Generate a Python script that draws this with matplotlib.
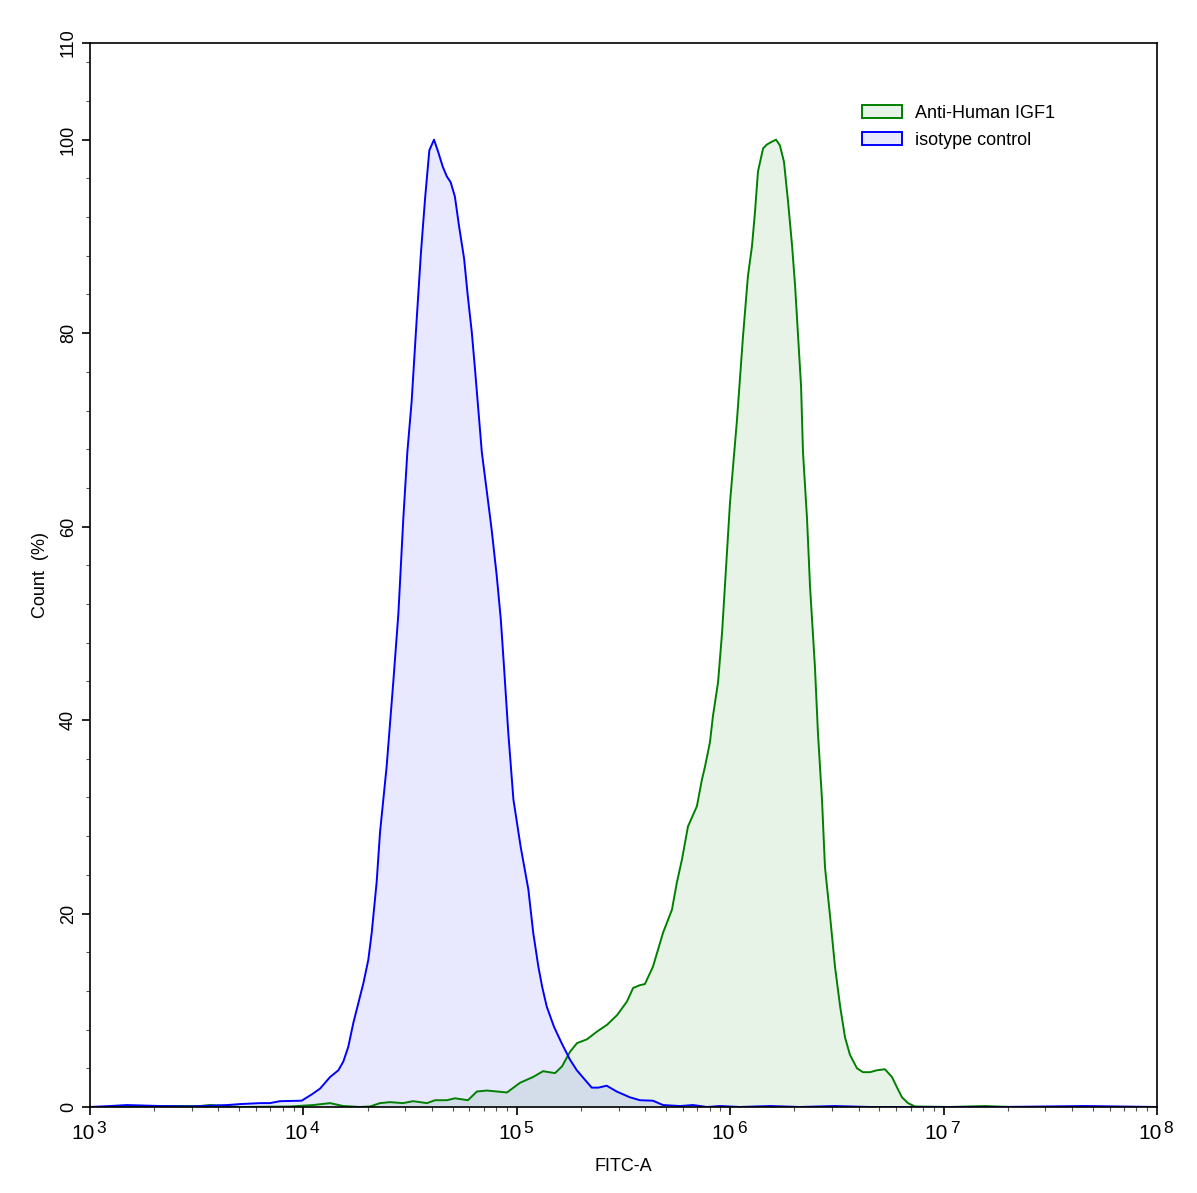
import matplotlib
matplotlib.use("Agg")
from matplotlib import pyplot as plt
from matplotlib.patches import Patch
from matplotlib.ticker import FixedLocator, MultipleLocator, LogLocator, NullFormatter
import numpy as np

plt.rcParams['font.family'] = ['Liberation Sans', 'DejaVu Sans']

# isotype control (blue) - log10(FITC-A) and Count (%)
iso_exp = [3.000, 3.094, 3.173, 3.328, 3.469, 3.642, 3.703, 3.797, 3.843, 3.890,
           3.992, 4.039, 4.078, 4.125, 4.164, 4.187, 4.210, 4.234, 4.257, 4.281,
           4.304, 4.320, 4.343, 4.359, 4.390, 4.421, 4.445, 4.468, 4.487, 4.507,
           4.531, 4.551, 4.570, 4.590, 4.612, 4.632, 4.653, 4.672, 4.690, 4.710,
           4.729, 4.753, 4.770, 4.789, 4.804, 4.836, 4.866, 4.882, 4.906, 4.925,
           4.940, 4.960, 4.984, 5.018, 5.054, 5.077, 5.101, 5.119, 5.140, 5.174,
           5.210, 5.249, 5.281, 5.312, 5.351, 5.382, 5.421, 5.468, 5.530, 5.577,
           5.638, 5.685, 5.765, 5.826, 5.891, 5.952, 6.046, 6.187, 6.327, 6.491,
           6.655, 7.264, 7.663, 8.000]
iso_cnt = [0.0, 0.1, 0.2, 0.1, 0.05, 0.2, 0.3, 0.4, 0.4, 0.6,
           0.65, 1.3, 1.9, 3.1, 3.8, 4.7, 6.2, 8.7, 10.7, 12.8,
           15.2, 18.0, 23.2, 28.4, 35.2, 43.9, 51.0, 60.8, 67.7, 72.9,
           81.5, 88.4, 93.9, 98.9, 100.0, 98.7, 97.2, 96.2, 95.6, 94.1,
           91.1, 87.7, 83.9, 80.1, 76.3, 67.7, 62.5, 59.7, 54.9, 50.4,
           45.5, 38.7, 31.8, 26.9, 22.5, 18.0, 14.5, 12.4, 10.4, 8.3,
           6.6, 4.9, 3.8, 3.0, 2.0, 2.0, 2.2, 1.6, 1.0, 0.7,
           0.65, 0.2, 0.1, 0.2, 0.0, 0.1, 0.0, 0.1, 0.0, 0.1,
           0.0, 0.0, 0.1, 0.0]

# Anti-Human IGF1 (green)
igf_exp = [3.000, 3.173, 3.281, 3.515, 3.562, 3.703, 3.937, 4.045, 4.125, 4.186,
           4.265, 4.312, 4.359, 4.406, 4.467, 4.514, 4.579, 4.617, 4.673, 4.710,
           4.771, 4.813, 4.860, 4.907, 4.954, 5.015, 5.076, 5.123, 5.179, 5.212,
           5.249, 5.282, 5.329, 5.376, 5.423, 5.470, 5.516, 5.545, 5.577, 5.600,
           5.638, 5.685, 5.727, 5.750, 5.774, 5.802, 5.844, 5.867, 5.882, 5.905,
           5.919, 5.943, 5.962, 5.999, 6.032, 6.060, 6.083, 6.102, 6.116, 6.130,
           6.154, 6.172, 6.196, 6.215, 6.233, 6.252, 6.271, 6.290, 6.304, 6.318,
           6.332, 6.341, 6.360, 6.374, 6.397, 6.411, 6.430, 6.444, 6.468, 6.491,
           6.515, 6.538, 6.561, 6.594, 6.622, 6.655, 6.688, 6.725, 6.758, 6.782,
           6.805, 6.833, 6.866, 7.030, 7.194, 7.311, 8.000]
igf_cnt = [0.0, 0.0, 0.1, 0.1, 0.2, 0.0, 0.05, 0.2, 0.4, 0.1,
           0.0, 0.05, 0.4, 0.5, 0.4, 0.6, 0.4, 0.7, 0.7, 0.9,
           0.7, 1.6, 1.7, 1.6, 1.5, 2.5, 3.1, 3.7, 3.5, 4.2,
           5.7, 6.6, 7.0, 7.8, 8.5, 9.5, 10.9, 12.3, 12.6, 12.7,
           14.5, 18.0, 20.4, 23.2, 25.6, 29.0, 31.1, 33.8, 35.2, 37.7,
           40.4, 43.9, 49.1, 62.5, 71.1, 79.7, 85.9, 89.0, 92.5, 96.7,
           99.1, 99.5, 99.8, 100.0, 99.4, 97.7, 93.6, 89.0, 84.9, 79.7,
           74.5, 67.7, 60.8, 53.8, 45.5, 38.7, 31.8, 24.8, 19.7, 14.5,
           10.4, 7.2, 5.4, 4.0, 3.6, 3.6, 3.8, 3.9, 3.1, 2.0,
           1.0, 0.4, 0.05, 0.0, 0.1, 0.0, 0.0]

labels = ['Anti-Human IGF1', 'isotype control']
y_ticks = [0, 20, 40, 60, 80, 100, 110]
x_decades = [3, 4, 5, 6, 7, 8]

iso_x = 10 ** np.array(iso_exp)
igf_x = 10 ** np.array(igf_exp)

fig = plt.figure(figsize=(11.97, 11.93), dpi=100)
ax = fig.add_axes([0.0752, 0.0721, 0.8914, 0.8919])

ax.fill_between(igf_x, igf_cnt, color='#008000', alpha=0.09, linewidth=0)
ax.fill_between(iso_x, iso_cnt, color='#0000ff', alpha=0.09, linewidth=0)
ax.plot(igf_x, igf_cnt, color='#008000', linewidth=1.4)
ax.plot(iso_x, iso_cnt, color='#0000ff', linewidth=1.4)

ax.set_xscale('log')
ax.set_xlim(1e3, 1e8)
ax.set_ylim(0, 110)

ax.xaxis.set_major_locator(FixedLocator([10.0 ** d for d in x_decades]))
ax.xaxis.set_major_formatter(NullFormatter())
ax.xaxis.set_minor_locator(LogLocator(base=10, subs=np.arange(2, 10)))
ax.xaxis.set_minor_formatter(NullFormatter())

# "10" with a raised exponent, drawn as two texts under each decade tick
for d in x_decades:
    ax.annotate('10', xy=(10.0 ** d, 0), xycoords=('data', 'axes fraction'),
                xytext=(3.2, -12.0), textcoords='offset points',
                ha='right', va='top', fontsize=15, annotation_clip=False)
    ax.annotate(str(d), xy=(10.0 ** d, 0), xycoords=('data', 'axes fraction'),
                xytext=(4.8, -10.2), textcoords='offset points',
                ha='left', va='top', fontsize=12.5, annotation_clip=False)

ax.yaxis.set_major_locator(FixedLocator(y_ticks))
ax.yaxis.set_minor_locator(MultipleLocator(4))
ax.set_yticklabels([str(v) for v in y_ticks], rotation=90, va='center')

ax.tick_params(which='major', direction='out', length=6, width=1.2,
               labelsize=13, top=False, right=False)
ax.tick_params(which='minor', direction='out', length=3, width=0.8,
               color='#555555', top=False, right=False)
for s in ax.spines.values():
    s.set_linewidth(1.2)

ax.set_xlabel('FITC-A', fontsize=13, labelpad=27)
ax.set_ylabel('Count  (%)', fontsize=13, labelpad=8)

handles = [Patch(facecolor='#e8f3e8', edgecolor='#008000', linewidth=1.4),
           Patch(facecolor='#e8e8fc', edgecolor='#0000ff', linewidth=1.4)]
ax.legend(handles, labels, loc='upper left', bbox_to_anchor=(0.708, 0.957),
          frameon=False, fontsize=13, handlelength=2.25, handleheight=0.7,
          handletextpad=0.7, labelspacing=0.55)

fig.savefig('out.png', dpi=100)
